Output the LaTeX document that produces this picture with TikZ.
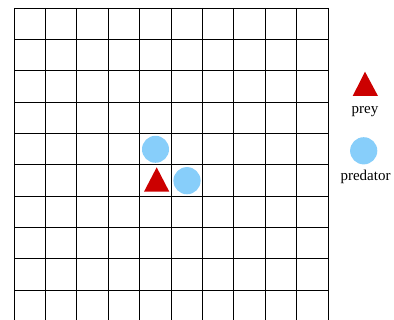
\documentclass[tikz,border=0pt]{standalone}
\usepackage{fontspec}
\setmainfont{Liberation Serif}
\definecolor{preyred}{RGB}{204,0,0}
\definecolor{predblue}{RGB}{135,206,250}
\tikzset{
  gridline/.style={black, line width=0.9pt},
  preyshape/.style={fill=preyred},
  predshape/.style={fill=predblue},
  legendtext/.style={font=\fontsize{15}{17}\selectfont, inner sep=0pt, anchor=base}
}
\begin{document}
\begin{tikzpicture}[x=1pt, y=-1pt]
\useasboundingbox (0,0) rectangle (394,320);
\begin{scope}
\clip (0,0) rectangle (394,320);
\foreach \i in {0,...,10} {
  \draw[gridline] ({14+31.4*\i},8) -- ({14+31.4*\i},330);
  \draw[gridline] (14,{8+31.33*\i}) -- (328,{8+31.33*\i});
}
\end{scope}
% grid pieces
\fill[predshape] (155.5,149.3) circle (13.5);
\fill[predshape] (187,180.7) circle (13.6);
\fill[preyshape] (156.7,167.3) -- (169.3,191.7) -- (144,191.7) -- cycle;
% legend
\fill[preyshape] (365,71.7) -- (378,96) -- (352.7,96) -- cycle;
\node[legendtext] (preylabel) at (365,113.5) {prey};
\fill[predshape] (363.7,150.8) circle (13.6);
\node[legendtext] (predlabel) at (365.5,181) {predator};
\end{tikzpicture}
\end{document}
